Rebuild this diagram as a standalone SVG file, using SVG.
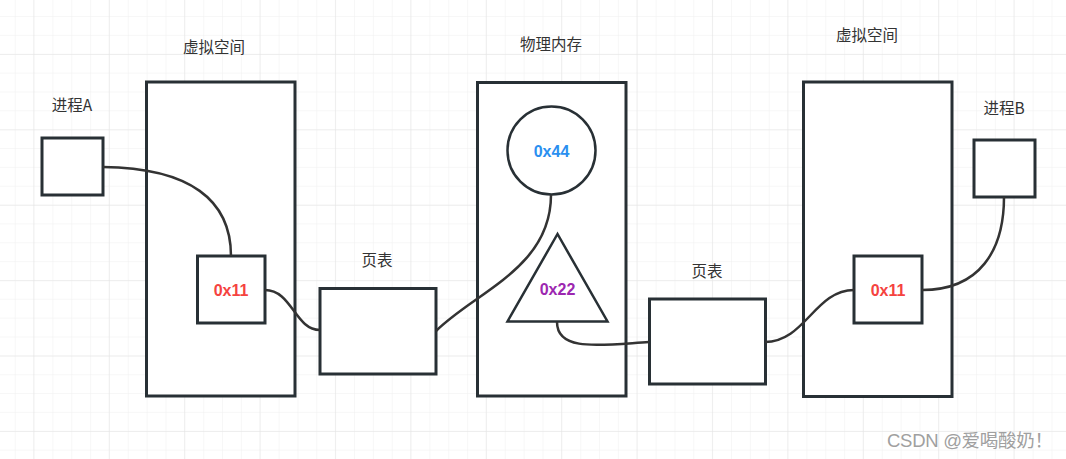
<svg xmlns="http://www.w3.org/2000/svg" width="1066" height="459" viewBox="0 0 1066 459">
  <defs>
    <pattern id="minor" x="14.7" y="-2.8" width="18.85" height="18.85" patternUnits="userSpaceOnUse">
      <path d="M0,0 H18.85 M0,0 V18.85" fill="none" stroke="#efefef" stroke-width="1"/>
    </pattern>
    <pattern id="major" x="33.3" y="54" width="75.4" height="75.4" patternUnits="userSpaceOnUse">
      <path d="M0,0 H75.4 M0,0 V75.4" fill="none" stroke="#e3e3e3" stroke-width="1"/>
    </pattern>
    <style>
      .box { fill: #ffffff; stroke: #283035; stroke-width: 3; }
      .lbl { font-family: "Noto Sans CJK SC", "Liberation Sans", sans-serif; font-size: 15.5px; fill: #333333; text-anchor: middle; }
      .addr { font-family: "Liberation Sans", "DejaVu Sans", sans-serif; font-size: 16px; font-weight: bold; text-anchor: middle; dominant-baseline: central; }
      .wire { fill: none; stroke: #333333; stroke-width: 2.5; }
    </style>
  </defs>
  <rect width="1066" height="459" fill="#ffffff"/>
  <rect width="1066" height="459" fill="url(#minor)"/>
  <rect width="1066" height="459" fill="url(#major)"/>

  <g id="procA">
    <rect class="box" x="42" y="138" width="61" height="57"/>
    <text class="lbl" x="72" y="111">进程A</text>
  </g>
  <g id="vspaceA">
    <rect class="box" x="146.5" y="82" width="148.5" height="314"/>
    <text class="lbl" x="214" y="53">虚拟空间</text>
  </g>
  <g id="addrA">
    <rect class="box" x="197.5" y="256" width="67.5" height="67"/>
    <text class="addr" x="231" y="290" fill="#f5433f">0x11</text>
  </g>
  <g id="pt1">
    <rect class="box" x="320" y="288.5" width="116" height="85.5"/>
    <text class="lbl" x="377" y="266">页表</text>
  </g>
  <g id="phys">
    <rect class="box" x="477.5" y="82.5" width="148.5" height="313.5"/>
    <text class="lbl" x="551" y="50">物理内存</text>
  </g>
  <g id="c44">
    <circle cx="551.5" cy="150.5" r="44" fill="#ffffff" stroke="#283035" stroke-width="2.5"/>
    <text class="addr" x="551.5" y="151" fill="#2a8ff0">0x44</text>
  </g>
  <g id="t22">
    <polygon points="557.5,234 507.5,321.5 607.5,321.5" fill="#ffffff" stroke="#283035" stroke-width="2.5" stroke-linejoin="miter"/>
    <text class="addr" x="557.5" y="289" fill="#9c27b0">0x22</text>
  </g>
  <g id="pt2">
    <rect class="box" x="649.5" y="299" width="116" height="85"/>
    <text class="lbl" x="707" y="277">页表</text>
  </g>
  <g id="vspaceB">
    <rect class="box" x="803.5" y="82" width="148.5" height="314.5"/>
    <text class="lbl" x="867" y="41">虚拟空间</text>
  </g>
  <g id="addrB">
    <rect class="box" x="854" y="256" width="68" height="67"/>
    <text class="addr" x="888" y="290" fill="#f5433f">0x11</text>
  </g>
  <g id="procB">
    <rect class="box" x="974" y="140" width="61" height="57"/>
    <text class="lbl" x="1004" y="114">进程B</text>
  </g>

  <g id="connectors">
    <path class="wire" d="M103,167 C190,168 231,200 231,256"/>
    <path class="wire" d="M265,290 C292,290 295,330 320,330"/>
    <path class="wire" d="M436,331 C475,292 551,268 551,195"/>
    <path class="wire" d="M557,322 C557,352 600,345 649,342"/>
    <path class="wire" d="M765,342 C805,342 815,290 854,290"/>
    <path class="wire" d="M922,290 C980,290 1004,250 1004,197"/>
  </g>

  <text x="887" y="447" font-family="Liberation Sans, Noto Sans CJK SC, sans-serif" font-size="18.5" fill="#a0a0a0" textLength="166" lengthAdjust="spacing">CSDN @爱喝酸奶！</text>
</svg>
